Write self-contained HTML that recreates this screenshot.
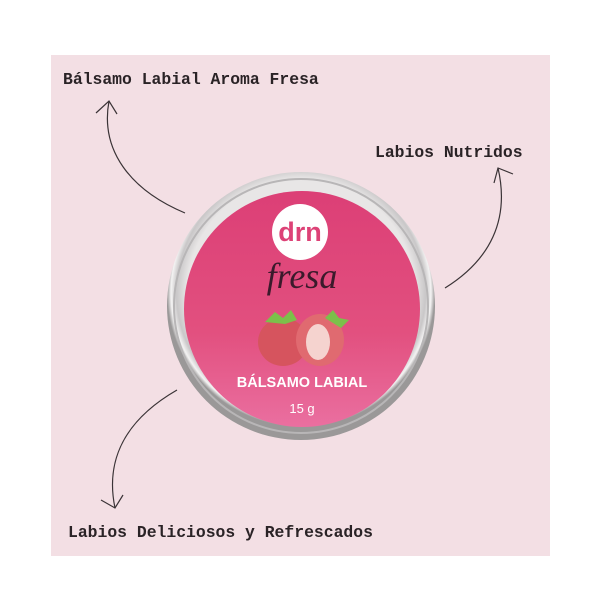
<!DOCTYPE html>
<html><head><style>
body{margin:0;width:600px;height:600px;background:#fff;position:relative;overflow:hidden;font-family:"Liberation Mono",monospace}
.bg{position:absolute;left:51px;top:55px;width:499px;height:501px;background:#f3dfe4}
.t{position:absolute;font-size:16.4px;font-weight:bold;color:#2a2326;white-space:nowrap;line-height:1}
</style></head><body>
<div class="bg"></div>
<div class="t" style="left:63px;top:72px">Bálsamo Labial Aroma Fresa</div>
<div class="t" style="left:375px;top:145px">Labios Nutridos</div>
<div class="t" style="left:68px;top:525px">Labios Deliciosos y Refrescados</div>
<svg width="600" height="600" style="position:absolute;left:0;top:0">
<defs>
<radialGradient id="rim" cx="50%" cy="45%" r="50%">
<stop offset="85%" stop-color="#e8e6e6"/><stop offset="93%" stop-color="#c9c7c8"/><stop offset="97%" stop-color="#f4f3f3"/><stop offset="100%" stop-color="#9a9898"/>
</radialGradient>
<linearGradient id="lab" x1="0" y1="0" x2="0" y2="1">
<stop offset="0" stop-color="#dc3f76"/><stop offset="0.6" stop-color="#e2507f"/><stop offset="1" stop-color="#ea6fa0"/>
</linearGradient>
</defs>
<g fill="none" stroke="#3a3336" stroke-width="1.2">
<path d="M185,213 C130,190 100,150 109,101"/><path d="M96,113 L109,101 L117,114"/>
<path d="M445,288 C490,260 510,220 498,168"/><path d="M494,183 L498,168 L513,174"/>
<path d="M177,390 C125,420 105,460 115,508"/><path d="M101,500 L115,508 L123,495"/>
</g>
<circle cx="301" cy="306" r="134" fill="url(#rim)"/>
<circle cx="301" cy="306" r="127" fill="none" stroke="#b8b6b7" stroke-width="2"/>
<circle cx="302" cy="309" r="118" fill="url(#lab)"/>
<circle cx="300" cy="232" r="28" fill="#fff"/>
<text x="300" y="241" text-anchor="middle" font-family="Liberation Sans,sans-serif" font-weight="bold" font-size="27" fill="#dd4277">drn</text>
<text x="302" y="288" text-anchor="middle" font-family="Liberation Serif,serif" font-style="italic" font-size="36" fill="#3b1a2b">fresa</text>
<ellipse cx="283" cy="342" rx="25" ry="24" fill="#d6545e"/>
<ellipse cx="320" cy="340" rx="24" ry="26" fill="#e06a70"/>
<ellipse cx="318" cy="342" rx="12" ry="18" fill="#f5d3cf"/>
<path d="M265,322 l10,-10 l8,6 l8,-8 l6,10 l-12,4z" fill="#7cc04a"/>
<path d="M325,318 l8,-8 l6,8 l10,2 l-8,8z" fill="#7cc04a"/>
<text x="302" y="387" text-anchor="middle" font-family="Liberation Sans,sans-serif" font-weight="bold" font-size="14.5" fill="#fff">BÁLSAMO LABIAL</text>
<text x="302" y="413" text-anchor="middle" font-family="Liberation Sans,sans-serif" font-size="13" fill="#fff">15 g</text>
</svg>
</body></html>
